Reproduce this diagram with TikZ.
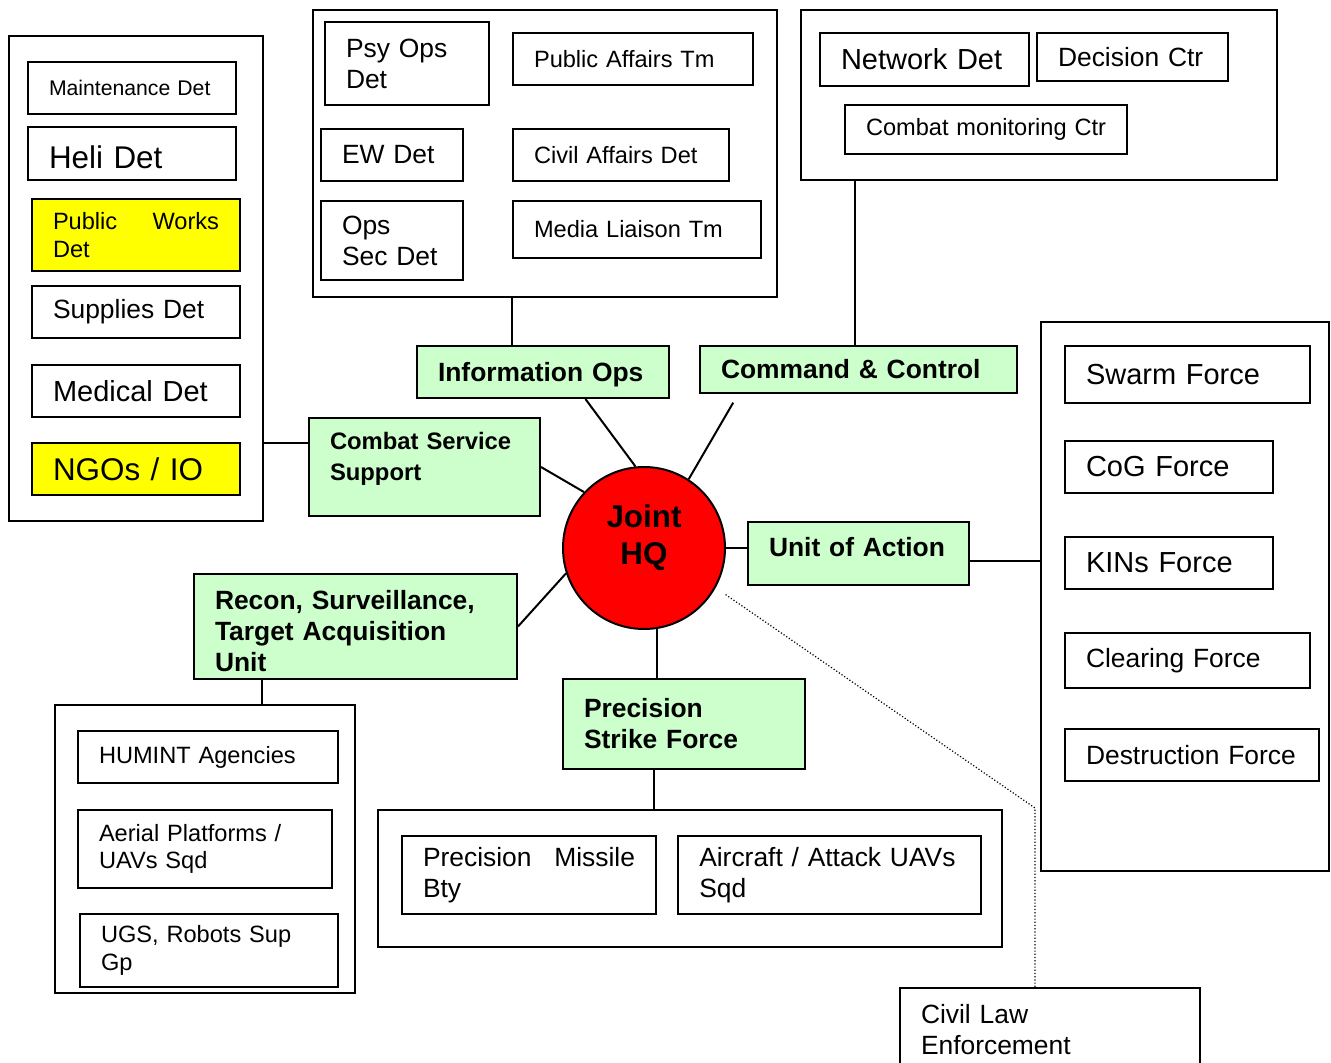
\documentclass[tikz,border=0pt]{standalone}
\usepackage{fontspec}
\setmainfont{Liberation Sans}
\usepackage{xcolor}
\usepackage{tikz}
\usetikzlibrary{calc}
\definecolor{coregreen}{HTML}{CCFFCC}
\definecolor{hlyellow}{HTML}{FFFF00}
\definecolor{hqred}{HTML}{FF0000}
% font sizes used in the boxes
\newcommand{\fsA}{\fontsize{10.6}{12.4}\selectfont}
\newcommand{\fsB}{\fontsize{11.8}{13.8}\selectfont}
\newcommand{\fsC}{\fontsize{13.2}{15.5}\selectfont}
\newcommand{\fsD}{\fontsize{14.5}{17}\selectfont}
\newcommand{\fsE}{\fontsize{15.7}{18.4}\selectfont}
\tikzset{
  grpbox/.style={draw, line width=1pt, inner sep=0pt},
  unitbox/.style={draw, line width=1pt, align=left, inner xsep=10.5pt, inner ysep=0pt, font=\fsC},
  hlbox/.style={unitbox, fill=hlyellow},
  corebox/.style={unitbox, fill=coregreen},
  link/.style={line width=1pt},
  dotlink/.style={line width=0.6pt, densely dotted},
}

\begin{document}
\begin{tikzpicture}[x=0.5pt,y=-0.5pt]
  \useasboundingbox (0,0) rectangle (1331,1063);
  % outer groups
  \node[grpbox, minimum width=127pt, minimum height=242.5pt] (lgrp) at (136,278.5) {};
  \node[grpbox, minimum width=232pt, minimum height=143.5pt] (igrp) at (545,153.5) {};
  \node[grpbox, minimum width=238pt, minimum height=85pt] (cgrp) at (1039,95) {};
  \node[grpbox, minimum width=144pt, minimum height=274.5pt] (ugrp) at (1185,596.5) {};
  \node[grpbox, minimum width=150pt, minimum height=144pt] (rgrp) at (205,849) {};
  \node[grpbox, minimum width=312pt, minimum height=68.5pt] (pgrp) at (690,878.5) {};

  % combat service support dets
  \node[unitbox, font=\fsA, text width=83pt, minimum height=26pt] (maint) at (132,88) {Maintenance Det};
  \node[unitbox, font=\fsE, text width=83pt, minimum height=26.5pt, text height=15pt] (heli) at (132,153.5) {Heli Det};
  \node[hlbox, font=\fsB, text width=83pt, minimum height=36pt] (pubworks) at (136,235) {Public\hfill Works\\Det};
  \node[unitbox, font=\fsC, text width=83pt, minimum height=26pt] (supplies) at (136,312) {Supplies Det};
  \node[unitbox, font=\fsD, text width=83pt, minimum height=26pt] (medical) at (136,391) {Medical Det};
  \node[hlbox, font=\fsE, text width=83pt, minimum height=26pt] (ngos) at (136,469) {NGOs / IO};

  % information ops dets
  \node[unitbox, text width=61pt, minimum height=41.5pt] (psyops) at (407,63.5) {Psy Ops\\Det};
  \node[unitbox, font=\fsB, text width=99pt, minimum height=26pt] (pubaff) at (633,59) {Public Affairs Tm};
  \node[unitbox, text width=50pt, minimum height=26pt] (ewdet) at (392,155) {EW Det};
  \node[unitbox, font=\fsB, text width=87pt, minimum height=26pt] (civaff) at (621,155) {Civil Affairs Det};
  \node[unitbox, text width=50pt, minimum height=39.5pt] (opssec) at (392,240.5) {Ops\\Sec Det};
  \node[unitbox, font=\fsB, text width=103pt, minimum height=28.5pt] (media) at (637,229.5) {Media Liaison Tm};

  % command and control dets
  \node[unitbox, font=\fsD, text width=83.5pt, minimum height=26.5pt] (netdet) at (924.5,59.5) {Network Det};
  \node[unitbox, text width=74.5pt, minimum height=24pt] (decctr) at (1132.5,57) {Decision Ctr};
  \node[unitbox, font=\fsB, text width=120pt, minimum height=24.5pt] (cmctr) at (986,129.5) {\mbox{Combat monitoring Ctr}};

  % unit of action forces
  \node[unitbox, font=\fsD, text width=101.5pt, minimum height=28.5pt] (swarm) at (1187.5,374.5) {Swarm Force};
  \node[unitbox, font=\fsD, text width=83pt, minimum height=26pt] (cog) at (1169,467) {CoG Force};
  \node[unitbox, font=\fsD, text width=83pt, minimum height=26pt] (kins) at (1169,563) {KINs Force};
  \node[unitbox, text width=101.5pt, minimum height=27.5pt] (clearing) at (1187.5,660.5) {Clearing Force};
  \node[unitbox, text width=106pt, minimum height=26pt] (destr) at (1192,755) {Destruction Force};

  % rsta elements
  \node[unitbox, font=\fsB, text width=109pt, minimum height=26pt] (humint) at (208,757) {HUMINT Agencies};
  \node[unitbox, font=\fsB, text width=106pt, minimum height=39pt] (aerial) at (205,849) {Aerial Platforms /\\UAVs Sqd};
  \node[unitbox, font=\fsB, text width=108pt, minimum height=36.5pt] (ugs) at (209,950.5) {UGS, Robots Sup\\Gp};

  % strike elements
  \node[unitbox, text width=106pt, minimum height=39pt] (missile) at (529,875) {Precision\hfill Missile\\Bty};
  \node[unitbox, text width=130.5pt, minimum height=39pt] (aircraft) at (829.75,875) {Aircraft / Attack UAVs\\Sqd};

  \node[unitbox, anchor=north, text width=129pt, inner ysep=8pt, text depth=30pt] (civil) at (1050,987) {Civil Law\\Enforcement};

  % core functions
  \node[corebox, font=\fsC\bfseries, text width=105pt, minimum height=26pt, text height=12pt] (info) at (543,372) {Information Ops};
  \node[corebox, font=\fsC\bfseries, text width=137.5pt, minimum height=23.5pt] (ctrl) at (858.5,369.5) {Command \& Control};
  \node[corebox, font=\fontsize{11.9}{15.5}\selectfont\bfseries, text width=94.5pt, minimum height=49pt, text depth=26pt] (css) at (424.5,467) {Combat Service\\Support};
  \node[corebox, font=\fsC\bfseries, text width=89.5pt, minimum height=31.5pt, text depth=7pt] (uoa) at (858.5,553.5) {Unit of Action};
  \node[corebox, font=\fsC\bfseries, text width=140.5pt, minimum height=52.5pt, text height=14.5pt] (rsta) at (355.5,626.5) {Recon, Surveillance,\\Target Acquisition\\Unit};
  \node[corebox, font=\fsC\bfseries, text width=100pt, minimum height=45pt] (psf) at (684,724) {Precision\\Strike Force};
  \node[draw, line width=1pt, circle, fill=hqred, minimum size=81pt, inner sep=0pt, align=center,
        font=\fsE\bfseries, text depth=13.5pt] (joint) at (644,548) {Joint\\HQ};

  % links
  \draw[link] ([yshift=12pt]css.west) -- ([yshift=12pt]css.west -| lgrp.east);
  \draw[link] (css.east) -- (joint.137);
  \draw[link] ($(info.south west)!0.667!(info.south east)$) -- (joint.96);
  \draw[link, shorten <=5pt] ($(ctrl.south west)!0.123!(ctrl.south east)$) -- (joint.57);
  \draw[link] (rsta.east) -- (joint.198);
  \draw[link] (joint.279) -- (joint.279 |- psf.north);
  \draw[link] (joint.east) -- (joint.east -| uoa.west);
  \draw[link] ([yshift=-3.75pt]uoa.east) -- ([yshift=-3.75pt]uoa.east -| ugrp.west);
  \draw[link] ([xshift=48pt]info.north west) -- ([xshift=48pt]info.north west |- igrp.south);
  \draw[link] ([xshift=-1.75pt]ctrl.north) -- ([xshift=-1.75pt]ctrl.north |- cgrp.south);
  \draw[link] ([xshift=34.5pt]rsta.south west) -- ([xshift=34.5pt]rsta.south west |- rgrp.north);
  \draw[link] ([xshift=46pt]psf.south west) -- ([xshift=46pt]psf.south west |- pgrp.north);
  \coordinate (dotbend) at (1035,808);
  \draw[dotlink, shorten <=6pt] (joint.331) -- (dotbend) -- (dotbend |- civil.north);
\end{tikzpicture}
\end{document}
